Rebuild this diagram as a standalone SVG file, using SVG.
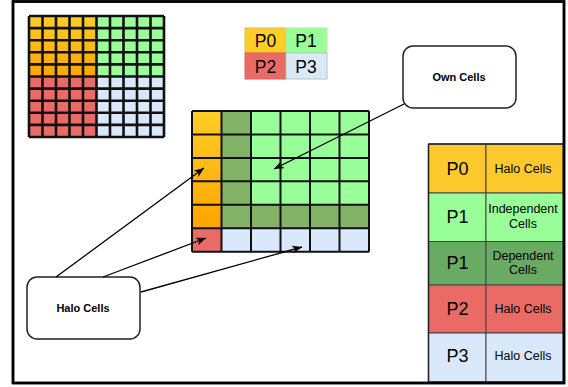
<svg xmlns="http://www.w3.org/2000/svg" width="568" height="387" viewBox="0 0 568 387">
<style>
.lbl{font-family:"Liberation Sans",Arial,sans-serif;fill:#000;text-anchor:middle}
.big{font-size:17.5px}
.tbl{font-size:12.5px}
.bold{font-size:11px;font-weight:bold}
.grid{fill:none;stroke:#111;stroke-width:2.6}
.mgrid{fill:none;stroke:#111;stroke-width:2}
.row{stroke:#444;stroke-width:1}
.callout{fill:#fff;stroke:#222;stroke-width:1.5}
.conn{fill:none;stroke:#000;stroke-width:1.3}
</style>
<defs>
<linearGradient id="orangeOv" gradientUnits="userSpaceOnUse" x1="0" y1="16" x2="0" y2="76.5">
<stop offset="0" stop-color="#ffcd28"/><stop offset="1" stop-color="#ffa500"/>
</linearGradient>
<linearGradient id="orangeMain" gradientUnits="userSpaceOnUse" x1="0" y1="111" x2="0" y2="228">
<stop offset="0" stop-color="#ffcd28"/><stop offset="1" stop-color="#ffa500"/>
</linearGradient>
<linearGradient id="orangeCell" x1="0" y1="0" x2="0" y2="1">
<stop offset="0" stop-color="#ffcd28"/><stop offset="1" stop-color="#fdc32a"/>
</linearGradient>
<marker id="arrow" viewBox="0 0 10 8" markerWidth="10" markerHeight="8" markerUnits="userSpaceOnUse" refX="10" refY="4" orient="auto">
<path d="M0,0 L10,4 L0,8 L3,4 Z" fill="#000"/>
</marker>
</defs>

<rect x="0" y="0" width="568" height="387" fill="#fff"/>
<rect id="frame" x="13" y="1.5" width="551" height="381.5" fill="none" stroke="#000" stroke-width="2.5"/>

<g id="overview-grid">
<rect x="29" y="16" width="67.5" height="60.5" fill="url(#orangeOv)"/>
<rect x="96.5" y="16" width="67.5" height="60.5" fill="#99ff99"/>
<rect x="29" y="76.5" width="67.5" height="60.5" fill="#ea6b66"/>
<rect x="96.5" y="76.5" width="67.5" height="60.5" fill="#dae8fc"/>
<path class="grid" d="M29,16V137M42.5,16V137M56,16V137M69.5,16V137M83,16V137M96.5,16V137M110,16V137M123.5,16V137M137,16V137M150.5,16V137M164,16V137M29,16H164M29,28.1H164M29,40.2H164M29,52.3H164M29,64.4H164M29,76.5H164M29,88.6H164M29,100.7H164M29,112.8H164M29,124.9H164M29,137H164"/>
<text class="lbl" x="128" y="49" style="font-size:4px;fill:#666">...</text>
</g>

<g id="legend">
<g id="legend-p0"><rect x="245" y="28" width="41" height="25" fill="#ffcd28" stroke="#e6b84a" stroke-width="1"/><text class="lbl big" x="265.5" y="46.7">P0</text></g>
<g id="legend-p1"><rect x="286" y="28" width="41" height="25" fill="#99ff99" stroke="#b8e6b0" stroke-width="1"/><text class="lbl big" x="306" y="46.7">P1</text></g>
<g id="legend-p2"><rect x="245" y="53" width="41" height="26" fill="#ea6b66" stroke="#e06060" stroke-width="1"/><text class="lbl big" x="265.5" y="73">P2</text></g>
<g id="legend-p3"><rect x="286" y="53" width="41" height="26" fill="#dae8fc" stroke="#a9d1a0" stroke-width="1"/><text class="lbl big" x="306" y="73">P3</text></g>
</g>

<g id="main-grid">
<rect x="192" y="111" width="29.5" height="117.25" fill="url(#orangeMain)"/>
<rect x="221.5" y="111" width="29.5" height="117.25" fill="#82b366"/>
<rect x="251" y="111" width="118" height="93.8" fill="#99ff99"/>
<rect x="251" y="204.8" width="118" height="23.45" fill="#82b366"/>
<rect x="192" y="228.25" width="29.5" height="23.45" fill="#ea6b66"/>
<rect x="221.5" y="228.25" width="147.5" height="23.45" fill="#dae8fc"/>
<path class="mgrid" d="M192,111V251.7M221.5,111V251.7M251,111V251.7M280.5,111V251.7M310,111V251.7M339.5,111V251.7M369,111V251.7M192,111H369M192,134.45H369M192,157.9H369M192,181.35H369M192,204.8H369M192,228.25H369M192,251.7H369"/>
</g>

<g id="own-cells">
<rect class="callout" x="403" y="46" width="113" height="62" rx="10"/>
<text class="lbl bold" x="459" y="80.5">Own Cells</text>
</g>

<g id="halo-cells">
<rect class="callout" x="27" y="277" width="113" height="62" rx="10"/>
<text class="lbl bold" x="83" y="311.5">Halo Cells</text>
</g>

<g id="table">
<g id="row-p0">
<rect class="row" x="428.5" y="144" width="57.5" height="49" fill="#fdc92c"/>
<rect class="row" x="486" y="144" width="77" height="49" fill="#fdc92c"/>
<text class="lbl" x="457.5" y="175" style="font-size:18px">P0</text>
<text class="lbl tbl" x="523" y="172.7">Halo Cells</text>
</g>
<g id="row-p1-independent">
<rect class="row" x="428.5" y="193" width="57.5" height="48.5" fill="#99ff99"/>
<rect class="row" x="486" y="193" width="77" height="48.5" fill="#99ff99"/>
<text class="lbl" x="457.5" y="222.7" style="font-size:18px">P1</text>
<text class="lbl tbl" x="523" y="213.3">Independent</text>
<text class="lbl tbl" x="523" y="228">Cells</text>
</g>
<g id="row-p1-dependent">
<rect class="row" x="428.5" y="241.5" width="57.5" height="43.5" fill="#6aab64"/>
<rect class="row" x="486" y="241.5" width="77" height="43.5" fill="#6aab64"/>
<text class="lbl" x="457.5" y="269.3" style="font-size:18px">P1</text>
<text class="lbl tbl" x="523" y="260">Dependent</text>
<text class="lbl tbl" x="523" y="274">Cells</text>
</g>
<g id="row-p2">
<rect class="row" x="428.5" y="285" width="57.5" height="48" fill="#ea6b66"/>
<rect class="row" x="486" y="285" width="77" height="48" fill="#ea6b66"/>
<text class="lbl" x="457.5" y="315" style="font-size:18px">P2</text>
<text class="lbl tbl" x="523" y="312.7">Halo Cells</text>
</g>
<g id="row-p3">
<rect class="row" x="428.5" y="333" width="57.5" height="48.5" fill="#dae8fc"/>
<rect class="row" x="486" y="333" width="77" height="48.5" fill="#dae8fc"/>
<text class="lbl" x="457.5" y="362.3" style="font-size:18px">P3</text>
<text class="lbl tbl" x="523" y="360">Halo Cells</text>
</g>
<line x1="428.5" y1="144" x2="428.5" y2="381.5" stroke="#222" stroke-width="1.6"/>
<line x1="428.5" y1="144" x2="563" y2="144" stroke="#222" stroke-width="1.6"/>
</g>

<rect x="13" y="1.5" width="551" height="381.5" fill="none" stroke="#000" stroke-width="2.5"/>

<g id="connectors">
<path class="conn" marker-end="url(#arrow)" d="M404,104 L274,169"/>
<path class="conn" marker-end="url(#arrow)" d="M56,277 L204,168"/>
<path class="conn" marker-end="url(#arrow)" d="M103,277 L206,238"/>
<path class="conn" marker-end="url(#arrow)" d="M141,292 L302,247"/>
</g>
</svg>
